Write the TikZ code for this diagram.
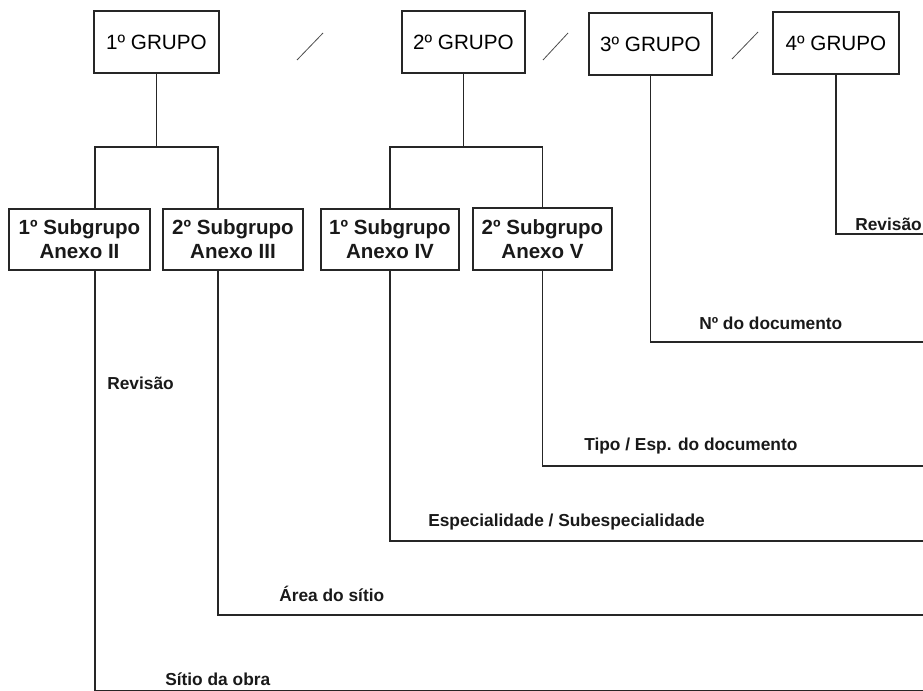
\documentclass[tikz,border=0pt]{standalone}
\usepackage{fontspec}
\setmainfont{Liberation Sans}
\newdimen\pxu \pxu=0.75pt
\begin{document}
\begin{tikzpicture}[x=0.75pt,y=-0.75pt,
  ln/.style={draw=black!85,line width=0.9pt},
  slash/.style={draw=black!70,line width=0.6pt},
  grp/.style={ln,fill=white,inner sep=0pt,font=\fontsize{15.5}{18}\selectfont,text=black},
  sub/.style={ln,fill=white,inner sep=0pt,align=center,font=\fontsize{15.4}{18}\selectfont\bfseries,text=black!90},
  lab/.style={anchor=base west,inner sep=0pt,font=\fontsize{13}{15}\selectfont\bfseries,text=black!90}]
\useasboundingbox (0,0) rectangle (923,690);
% group boxes
\node[grp,minimum width=125\pxu,minimum height=62\pxu] (g1) at (156.5,42) {1º GRUPO};
\node[grp,minimum width=123\pxu,minimum height=62\pxu] (g2) at (463.5,42) {2º GRUPO};
\node[grp,minimum width=123\pxu,minimum height=62\pxu] (g3) at (650.5,44) {3º GRUPO};
\node[grp,minimum width=126\pxu,minimum height=62\pxu] (g4) at (836,43) {4º GRUPO};
% subgroup boxes
\node[sub,minimum width=141\pxu,minimum height=61\pxu] (sa) at (79.5,239.5) {1º Subgrupo\\Anexo II};
\node[sub,minimum width=140\pxu,minimum height=61\pxu] (sb) at (233,239.5) {2º Subgrupo\\Anexo III};
\node[sub,minimum width=138\pxu,minimum height=61\pxu] (sc) at (390,239.5) {1º Subgrupo\\Anexo IV};
\node[sub,minimum width=139\pxu,minimum height=62\pxu] (sd) at (542.5,239) {2º Subgrupo\\Anexo V};
% slashes
\coordinate (s1a) at (297,60); \coordinate (s1b) at (323,33);
\coordinate (s2a) at (543,60); \coordinate (s2b) at (568,33);
\coordinate (s3a) at (732,59); \coordinate (s3b) at (758,32);
\draw[slash] (s1a) -- (s1b);
\draw[slash] (s2a) -- (s2b);
\draw[slash] (s3a) -- (s3b);
% tree connectors
\coordinate (j1) at (156.5,147);
\coordinate (j2) at (463.5,147);
\draw[ln] (g1.south) -- (j1);
\draw[ln] (sa.north -| 95,0) -- (95,147) -- (218,147) -- (sb.north -| 218,0);
\draw[ln] (g2.south) -- (j2);
\draw[ln] (sc.north) -- (390,147) -- (542.5,147) -- (sd.north);
% right-side end coordinates
\coordinate (e4) at (923,234);
\coordinate (e3) at (923,342);
\coordinate (ed) at (923,466);
\coordinate (ec) at (923,541);
\coordinate (eb) at (923,615);
\coordinate (ea) at (923,690.6);
\draw[ln] (g4.south) |- (e4);
\draw[ln] (g3.south) |- (e3);
\draw[ln] (sd.south) |- (ed);
\draw[ln] (sc.south) |- (ec);
\draw[ln] (sb.south -| 218,0) |- (eb);
\draw[ln] (sa.south -| 95,0) |- (ea);
% labels
\node[lab] (l1) at (855,230) {Revisão};
\node[lab] (l2) at (699,329) {Nº do documento};
\node[lab] (l3) at (584,450) {Tipo / Esp. do documento};
\node[lab] (l4) at (428,526.5) {Especialidade / Subespecialidade};
\node[lab] (l5) at (279,601) {Área do sítio};
\node[lab] (l6) at (107,389) {Revisão};
\node[lab] (l7) at (165,685) {Sítio da obra};
\end{tikzpicture}
\end{document}
